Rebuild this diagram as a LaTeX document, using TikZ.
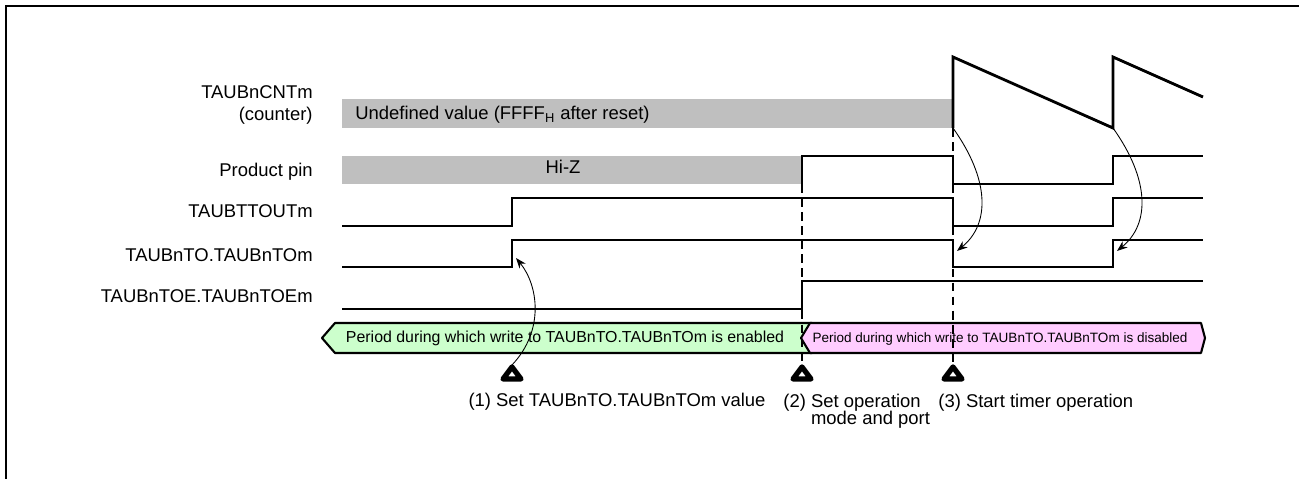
\documentclass[tikz,border=0pt]{standalone}
\usepackage{fontspec}
\setmainfont{Liberation Sans}
\usetikzlibrary{arrows.meta}

\definecolor{enablegreen}{HTML}{CCFFCC}
\definecolor{disablepink}{HTML}{FFCCFF}

\begin{document}
\begin{tikzpicture}[
  x=0.02cm, y=-0.02cm,
  every node/.style={
    font=\fontsize{10.5}{12.6}\selectfont,
    inner sep=0pt
  },
  sig/.style={line width=1.6pt, line join=miter},
  bar/.style={fill=black!25},
  period/.style={draw, line width=1.2pt, line join=round},
  marker/.style={draw, fill=white, line width=3pt, line join=round},
  guide/.style={line width=0.8pt, dash pattern=on 5pt off 3pt},
  cause/.style={-{Stealth[length=6pt, width=4.5pt]}, line width=0.5pt}
]
\useasboundingbox (0,0) rectangle (1299,479);

% Frame
\draw[line width=1.6pt] (6,479) -- (6,6) -- (1299,6);

% Signal names
\node (lblcnt) [anchor=base east, align=right] at (313,121) {TAUBnCNTm\\(counter)};
\node (lblpin) [anchor=base east] at (313,177) {Product pin};
\node (lblttout) [anchor=base east] at (313,218) {TAUBTTOUTm};
\node (lblto) [anchor=base east] at (313,262) {TAUBnTO.TAUBnTOm};
\node (lbltoe) [anchor=base east] at (313,303) {TAUBnTOE.TAUBnTOEm};

% Counter
\fill[bar] (342,99) rectangle (953,128);
\node (undef) [anchor=base west] at (355,120) {Undefined value (FFFF\textsubscript{H} after reset)};
\draw[sig] (953,128) -- (953,57) -- (1113,128) -- (1113,57) -- (1203,97);

% Product pin
\fill[bar] (342,156) rectangle (802,184);
\node (hiz) [anchor=base] at (563,174) {Hi-Z};
\draw[sig] (802,184) -- (802,156) -- (953,156) -- (953,184) -- (1113,184) -- (1113,156) -- (1203,156);

% Output and control bits
\draw[sig] (342,226) -- (512,226) -- (512,198) -- (953,198) -- (953,226) -- (1113,226) -- (1113,198) -- (1203,198);
\draw[sig] (342,267) -- (512,267) -- (512,240) -- (953,240) -- (953,267) -- (1113,267) -- (1113,240) -- (1203,240);
\draw[sig] (342,309) -- (802,309) -- (802,281) -- (1203,281);

% Write periods
\draw[period, fill=enablegreen] (322,338) -- (335,323) -- (812,323) -- (812,353) -- (335,353) -- cycle;
\draw[period, fill=disablepink] (801,338) -- (810,323) -- (1201,323) -- (1205,338) -- (1201,353) -- (810,353) -- cycle;
\node (pen) [anchor=base, font=\fontsize{9.05}{10.9}\selectfont] at (565,343) {Period during which write to TAUBnTO.TAUBnTOm is enabled};
\node (pdis) [anchor=base, font=\fontsize{7.7}{9.2}\selectfont] at (1000,343) {Period during which write to TAUBnTO.TAUBnTOm is disabled};

% Guide lines
\draw[guide] (802,184) -- (802,366);
\draw[guide] (953,128) -- (953,366);

% Markers
\foreach \x/\n in {512/1, 802/2, 953/3} {
  \draw[marker] (\x-9,379) -- (\x,367) -- (\x+9,379) -- cycle;
  \coordinate (m\n) at (\x,365);
}

% Steps
\node (s1) [anchor=base] at (617,407) {(1) Set TAUBnTO.TAUBnTOm value};
\node (s2) [anchor=base west, align=left, font=\fontsize{10.5}{9.8}\selectfont] at (783,425) {(2) Set operation\\\phantom{(2) }mode and port};
\node (s3) [anchor=base west] at (938,408) {(3) Start timer operation};

% Arrows
\coordinate (rise) at (516,258);
\draw[cause] (m1) .. controls (545,330) and (538,285) .. (rise);
\foreach \x/\n in {953/a, 1113/b} {
  \coordinate (low\n) at (\x,128);
  \coordinate (edge\n) at (\x+4,251);
  \draw[cause] (low\n) .. controls +(37,52) and +(33,-27) .. (edge\n);
}

\end{tikzpicture}
\end{document}
